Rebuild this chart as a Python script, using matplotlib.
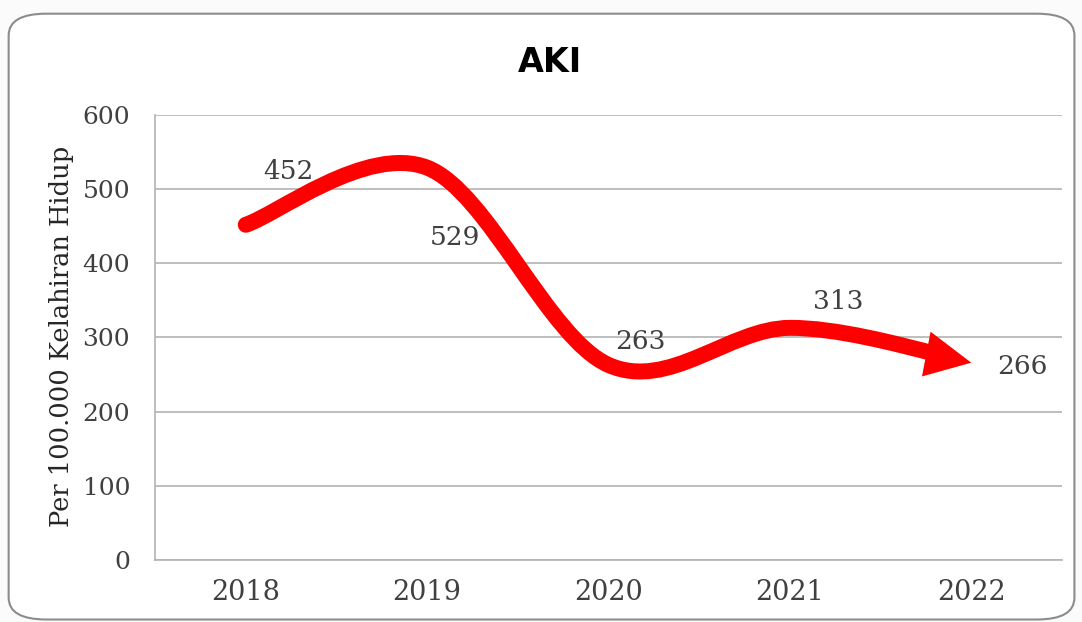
import matplotlib.pyplot as plt
from matplotlib.patches import FancyBboxPatch, PathPatch
from matplotlib.path import Path

years = ["2018", "2019", "2020", "2021", "2022"]
aki = [452, 529, 263, 313, 266]
label_offsets = [(31, 38), (20, -50), (23, 17), (35, 19), (37, -3)]  # in points
y_ticks = [0, 100, 200, 300, 400, 500, 600]

RED = "#ff0000"
TEXT = "#404040"

fig = plt.figure(figsize=(10.82, 6.22), dpi=100)
fig.patch.set_facecolor("#fbfbfb")

# rounded frame around the chart
frame = FancyBboxPatch((0.008, 0.004), 0.985, 0.974,
                       boxstyle="round,pad=0,rounding_size=0.035",
                       transform=fig.transFigure, facecolor="white",
                       edgecolor="#8c8c8c", linewidth=1.5, zorder=-1)
fig.patches.append(frame)

ax = fig.add_axes([0.1433, 0.0997, 0.8382, 0.7154])
ax.set_facecolor("none")
ax.set_xlim(-0.5, 4.5)
ax.set_ylim(0, 600)
ax.set_yticks(y_ticks)
ax.set_xticks(range(len(years)))
ax.set_xticklabels(years)
ax.grid(axis="y", color="#b3b3b3", linewidth=1.2)
ax.set_axisbelow(True)
for side in ["top", "right"]:
    ax.spines[side].set_visible(False)
for side in ["left", "bottom"]:
    ax.spines[side].set_color("#b3b3b3")
    ax.spines[side].set_linewidth(1.2)
ax.tick_params(length=0, colors=TEXT)
ax.tick_params(axis="y", pad=18, labelsize=18)
ax.tick_params(axis="x", pad=14, labelsize=19.5)
for lab in ax.get_xticklabels() + ax.get_yticklabels():
    lab.set_fontfamily("DejaVu Serif")

# smoothed line (cardinal spline as bezier curves, like Excel's smooth line)
pts = list(zip(range(len(aki)), aki))
n = len(pts)
verts = [pts[0]]
codes = [Path.MOVETO]
for i in range(n - 1):
    p0 = pts[i - 1] if i > 0 else pts[i]
    p1 = pts[i]
    p2 = pts[i + 1]
    p3 = pts[i + 2] if i + 2 < n else pts[i + 1]
    c1 = (p1[0] + (p2[0] - p0[0]) / 6, p1[1] + (p2[1] - p0[1]) / 6)
    c2 = (p2[0] - (p3[0] - p1[0]) / 6, p2[1] - (p3[1] - p1[1]) / 6)
    if i == n - 2:
        # stop the last segment inside the arrow head (de Casteljau split)
        t = 0.75
        lerp = lambda a, b: (a[0] + (b[0] - a[0]) * t, a[1] + (b[1] - a[1]) * t)
        a1, a2, a3 = lerp(p1, c1), lerp(c1, c2), lerp(c2, p2)
        b1, b2 = lerp(a1, a2), lerp(a2, a3)
        end = lerp(b1, b2)
        verts += [a1, b1, end]
        last_dir = (p2[0] - c2[0], p2[1] - c2[1])
    else:
        verts += [c1, c2, p2]
    codes += [Path.CURVE4] * 3

ax.add_patch(PathPatch(Path(verts, codes), facecolor="none", edgecolor=RED,
                       linewidth=11.5, capstyle="round", joinstyle="round",
                       zorder=3))

# arrow head at the final point
tip = pts[-1]
tail = (tip[0] - 3 * last_dir[0], tip[1] - 3 * last_dir[1])
ax.annotate("", xy=tip, xytext=tail,
            arrowprops=dict(arrowstyle="-|>,head_length=1.65,head_width=0.82",
                            mutation_scale=20, color=RED, lw=0,
                            shrinkA=0, shrinkB=0),
            zorder=4)

for (x, y), (dx, dy) in zip(pts, label_offsets):
    ax.annotate(str(y), (x, y), xytext=(dx, dy), textcoords="offset points",
                ha="center", va="center", fontsize=19, color=TEXT,
                family="DejaVu Serif", zorder=5)

fig.text(0.508, 0.90, "AKI", ha="center", va="center", fontsize=24,
         fontweight="bold", color="black", family="DejaVu Sans")
fig.text(0.057, 0.46, "Per 100.000 Kelahiran Hidup", rotation=90,
         ha="center", va="center", fontsize=18.5, color="#262626",
         family="DejaVu Serif")

plt.savefig("out.png", dpi=100)
